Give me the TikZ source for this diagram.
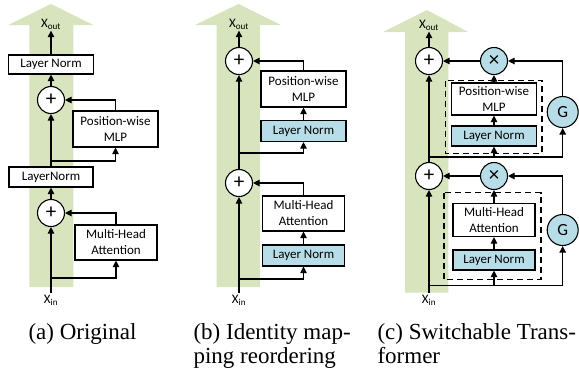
\documentclass[tikz,border=0pt]{standalone}
\usepackage{fontspec}
\setmainfont{Liberation Serif}
\newfontfamily\calfont{Carlito}
\usetikzlibrary{arrows.meta}
\definecolor{flowgreen}{RGB}{215,228,189}
\definecolor{normblue}{RGB}{183,222,232}

\begin{document}
\begin{tikzpicture}[x=1pt,y=-1pt,
	>={Triangle[length=6.5pt,width=6.5pt]},
	line width=1.1pt,
	block/.style={draw,fill=white,inner sep=0pt,align=center,font=\calfont\fontsize{13}{16}\selectfont},
	normbox/.style={block,fill=normblue},
	plusnode/.style={draw,circle,fill=white,minimum size=27pt,inner sep=0pt,font=\calfont\fontsize{21}{21}\selectfont},
	gatenode/.style={plusnode,fill=normblue,minimum size=31pt,font=\calfont\fontsize{17}{17}\selectfont},
	iolabel/.style={inner sep=1pt,font=\calfont\fontsize{13}{13}\selectfont},
	dashbox/.style={line width=1.2pt,dash pattern=on 6pt off 4pt},
	captext/.style={anchor=base west,inner sep=0pt,font=\fontsize{23}{25}\selectfont}]
	\useasboundingbox (0,0) rectangle (579,376);

	% background flow arrows
	\fill[flowgreen] (29.3,287) -- (29.3,25) -- (8.3,25) -- (51,4) -- (93.3,25) -- (73.3,25) -- (73.3,287) -- cycle;
	\fill[flowgreen] (216.7,287) -- (216.7,25) -- (195,25) -- (238.5,4) -- (281,25) -- (260,25) -- (260,287) -- cycle;
	\fill[flowgreen] (405,292.7) -- (405,32) -- (383,32) -- (427,10) -- (468,32) -- (448.3,32) -- (448.3,292.7) -- cycle;

	% (a) original
	\node[iolabel] (a-out) at (51,24) {X\textsubscript{out}};
	\node[block,minimum width=85pt,minimum height=19pt] (a-norm2) at (51,64.5) {Layer Norm};
	\node[plusnode] (a-add2) at (51,100) {+};
	\node[block,minimum width=85pt,minimum height=36pt] (a-mlp) at (115.5,129) {Position-wise\\MLP};
	\node[block,minimum width=84pt,minimum height=20pt] (a-norm1) at (51,177) {LayerNorm};
	\node[plusnode] (a-add1) at (51,213) {+};
	\node[block,minimum width=82pt,minimum height=35pt] (a-mha) at (116,242.5) {Multi-Head\\Attention};
	\node[iolabel] (a-in) at (51,300) {X\textsubscript{in}};
	\coordinate (a-br1) at (51,278);
	\coordinate (a-br2) at (51,161);

	\draw[->] (a-in) -- (a-add1);
	\draw[->] (a-add1) -- (a-norm1);
	\draw[->] (a-norm1) -- (a-add2);
	\draw[->] (a-add2) -- (a-norm2);
	\draw[->] (a-norm2) -- (a-out);
	\draw[->] (a-br1) -| (a-mha);
	\draw[->] (a-mha) |- (a-add1);
	\draw[->] (a-br2) -| (a-mlp);
	\draw[->] (a-mlp) |- (a-add2);

	% (b) identity mapping reordering
	\node[iolabel] (b-out) at (239,24) {X\textsubscript{out}};
	\node[plusnode] (b-add2) at (239,61) {+};
	\node[block,minimum width=85pt,minimum height=36pt] (b-mlp) at (303.5,89) {Position-wise\\MLP};
	\node[normbox,minimum width=85pt,minimum height=21pt] (b-norm2) at (303.5,131) {Layer Norm};
	\node[plusnode] (b-add1) at (239,183) {+};
	\node[block,minimum width=82pt,minimum height=35pt] (b-mha) at (303.5,213.5) {Multi-Head\\Attention};
	\node[normbox,minimum width=82pt,minimum height=21pt] (b-norm1) at (303.5,255.5) {Layer Norm};
	\node[iolabel] (b-in) at (239,300) {X\textsubscript{in}};
	\coordinate (b-br1) at (239,279);
	\coordinate (b-br2) at (239,153);

	\draw[->] (b-in) -- (b-add1);
	\draw[->] (b-add1) -- (b-add2);
	\draw[->] (b-add2) -- (b-out);
	\draw[->] (b-br1) -| (b-norm1);
	\draw[->] (b-norm1) -- (b-mha);
	\draw[->] (b-mha) |- (b-add1);
	\draw[->] (b-br2) -| (b-norm2);
	\draw[->] (b-norm2) -- (b-mlp);
	\draw[->] (b-mlp) |- (b-add2);

	% (c) switchable transformer
	\draw[dashbox] (445.7,80.7) rectangle (542,153.3);
	\draw[dashbox] (444,192.7) rectangle (541,279.3);
	\node[iolabel] (c-out) at (429,25) {X\textsubscript{out}};
	\node[plusnode] (c-add2) at (429,61) {+};
	\node[plusnode,fill=normblue] (c-mul2) at (494,61) {×};
	\node[block,minimum width=85pt,minimum height=32pt] (c-mlp) at (494,99) {Position-wise\\MLP};
	\node[normbox,minimum width=85pt,minimum height=20pt] (c-norm2) at (494,136) {Layer Norm};
	\node[gatenode] (c-gate2) at (562.7,112) {G};
	\node[plusnode] (c-add1) at (429,176) {+};
	\node[plusnode,fill=normblue] (c-mul1) at (494,176) {×};
	\node[block,minimum width=82pt,minimum height=33pt] (c-mha) at (494,220) {Multi-Head\\Attention};
	\node[normbox,minimum width=82pt,minimum height=20pt] (c-norm1) at (494,260) {Layer Norm};
	\node[gatenode] (c-gate1) at (562.7,230) {G};
	\node[iolabel] (c-in) at (429,300) {X\textsubscript{in}};
	\coordinate (c-br1) at (429,285.5);
	\coordinate (c-br1m) at (494,285.5);
	\coordinate (c-br2) at (429,157);
	\coordinate (c-br2m) at (494,157);

	\draw[->] (c-in) -- (c-add1);
	\draw[->] (c-add1) -- (c-add2);
	\draw[->] (c-add2) -- (c-out);
	\draw[->] (c-br1) -| (c-gate1);
	\draw[->] (c-br1m) -- (c-norm1);
	\draw[->] (c-norm1) -- (c-mha);
	\draw[->] (c-mha) -- (c-mul1);
	\draw[->] (c-gate1) |- (c-mul1);
	\draw[->] (c-mul1) -- (c-add1);
	\draw[->] (c-br2) -| (c-gate2);
	\draw[->] (c-br2m) -- (c-norm2);
	\draw[->] (c-norm2) -- (c-mlp);
	\draw[->] (c-mlp) -- (c-mul2);
	\draw[->] (c-gate2) |- (c-mul2);
	\draw[->] (c-mul2) -- (c-add2);

	% captions
	\node[captext] (cap-a) at (28,339.5) {(a) Original};
	\node[captext] (cap-b1) at (193,339.5) {(b) Identity map-};
	\node[captext] (cap-b2) at (193,363) {ping reordering};
	\node[captext] (cap-c1) at (377,339.5) {(c) Switchable Trans-};
	\node[captext] (cap-c2) at (377,363) {former};
\end{tikzpicture}
\end{document}
